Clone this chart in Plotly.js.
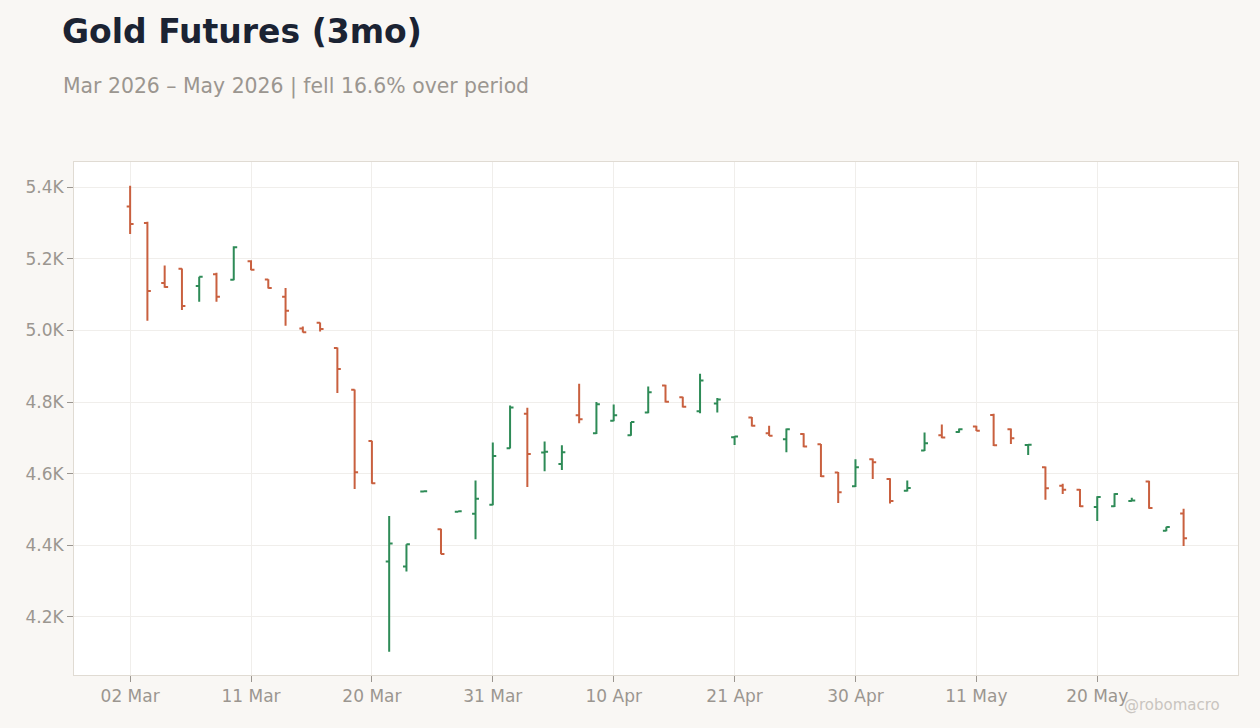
<!DOCTYPE html>
<html>
<head>
<meta charset="utf-8">
<script src="https://cdn.plot.ly/plotly-3.0.1.min.js"></script>
<style>html,body{margin:0;padding:0;background:#f9f7f4;}#chart{width:1260px;height:728px;}</style>
</head>
<body>
<div id="chart"></div>
<script>
const dates = [
 "2026-03-02","2026-03-03","2026-03-04","2026-03-05","2026-03-06","2026-03-09","2026-03-10","2026-03-11","2026-03-12","2026-03-13",
 "2026-03-16","2026-03-17","2026-03-18","2026-03-19","2026-03-20","2026-03-23","2026-03-24","2026-03-25","2026-03-26","2026-03-27",
 "2026-03-30","2026-03-31","2026-04-01","2026-04-02","2026-04-06","2026-04-07","2026-04-08","2026-04-09","2026-04-10","2026-04-13",
 "2026-04-14","2026-04-15","2026-04-16","2026-04-17","2026-04-20","2026-04-21","2026-04-22","2026-04-23","2026-04-24","2026-04-27",
 "2026-04-28","2026-04-29","2026-04-30","2026-05-01","2026-05-04","2026-05-05","2026-05-06","2026-05-07","2026-05-08","2026-05-11",
 "2026-05-12","2026-05-13","2026-05-14","2026-05-15","2026-05-18","2026-05-19","2026-05-20","2026-05-21","2026-05-22","2026-05-26",
 "2026-05-27","2026-05-28"];
const openP = [5346,5300,5132,5172,5124,5157,5141,5193,5142,5094,5005,5021,4951,4834,4691,4355,4341,4550,4445,4494,
 4488,4513,4671,4767,4659,4627,4763,4713,4748,4707,4771,4846,4813,4774,4796,4702,4757,4713,4696,4711,
 4682,4603,4565,4640,4585,4552,4665,4707,4716,4732,4764,4724,4680,4618,4566,4555,4507,4509,4524,4578,4441,4489];
const highP = [5404,5303,5181,5173,5150,5161,5235,5196,5143,5118,5011,5022,4952,4835,4692,4482,4403,4552,4446,4495,
 4581,4687,4790,4784,4690,4679,4851,4800,4793,4744,4843,4848,4815,4879,4811,4705,4758,4734,4726,4713,
 4683,4605,4640,4642,4587,4581,4715,4737,4726,4734,4767,4726,4682,4620,4572,4557,4537,4545,4533,4580,4452,4502];
const lowP = [5269,5027,5119,5057,5080,5080,5140,5168,5117,5013,4994,4997,4825,4557,4572,4103,4327,4548,4375,4493,
 4417,4512,4670,4563,4607,4610,4741,4711,4746,4706,4769,4799,4785,4769,4771,4680,4732,4705,4660,4674,
 4591,4518,4563,4585,4517,4550,4663,4699,4714,4719,4677,4683,4652,4527,4543,4507,4468,4507,4522,4502,4439,4398];
const closeP = [5297,5110,5121,5068,5150,5094,5232,5169,5118,5055,4995,5004,4892,4604,4573,4405,4403,4551,4376,4495,
 4530,4649,4785,4655,4661,4660,4752,4794,4763,4744,4827,4801,4787,4860,4807,4704,4734,4706,4724,4676,
 4593,4548,4618,4632,4524,4560,4685,4701,4724,4720,4679,4699,4681,4559,4555,4509,4535,4543,4525,4504,4451,4420];
const xTickVals = ["2026-03-02","2026-03-11","2026-03-20","2026-03-31","2026-04-10","2026-04-21","2026-04-30","2026-05-11","2026-05-20"];
const xTickText = ["02 Mar","11 Mar","20 Mar","31 Mar","10 Apr","21 Apr","30 Apr","11 May","20 May"];
const yTickVals = [4200,4400,4600,4800,5000,5200,5400];
const yTickText = ["4.2K","4.4K","4.6K","4.8K","5.0K","5.2K","5.4K"];

const trace = {
  type: 'ohlc', x: dates, open: openP, high: highP, low: lowP, close: closeP,
  tickwidth: 0.2,
  increasing: {line: {color: '#2e8b57', width: 2}},
  decreasing: {line: {color: '#c9603f', width: 2}},
  hoverinfo: 'skip', showlegend: false
};
const tickFont = {family: 'DejaVu Sans, sans-serif', size: 17, color: '#9b9690'};
const layout = {
  width: 1260, height: 728,
  paper_bgcolor: '#f9f7f4', plot_bgcolor: '#ffffff',
  margin: {l: 74, r: 22, t: 162, b: 53},
  title: {text: '<b>Gold Futures (3mo)</b>', xref: 'container', yref: 'container',
          x: 62/1260, xanchor: 'left', y: 1 - 31/728, yanchor: 'middle',
          font: {family: 'DejaVu Sans, sans-serif', size: 33, color: '#1b2333'}},
  xaxis: {type: 'category', range: [-3.25, 64.15], tickvals: xTickVals, ticktext: xTickText,
          showgrid: true, gridcolor: '#f0eeeb', ticks: 'outside', ticklen: 6, tickcolor: '#9b9690',
          showline: true, mirror: true, linecolor: '#e0dbd3', linewidth: 1,
          rangeslider: {visible: false}, tickfont: tickFont, zeroline: false, fixedrange: true},
  yaxis: {range: [4038, 5470], tickvals: yTickVals, ticktext: yTickText,
          showgrid: true, gridcolor: '#f0eeeb', ticks: 'outside', ticklen: 6, tickcolor: '#9b9690',
          showline: true, mirror: true, linecolor: '#e0dbd3', linewidth: 1,
          tickfont: tickFont, zeroline: false, fixedrange: true},
  annotations: [
    {text: 'Mar 2026 – May 2026 | fell 16.6% over period', xref: 'paper', yref: 'paper',
     x: (61-74)/1164, xanchor: 'left', y: (675-86)/513, yanchor: 'middle', showarrow: false,
     font: {family: 'DejaVu Sans, sans-serif', size: 20.4, color: '#9b9690'}},
    {text: '@robomacro', xref: 'paper', yref: 'paper',
     x: (1222-74)/1164, xanchor: 'right', y: (675-705)/513, yanchor: 'middle', showarrow: false,
     font: {family: 'DejaVu Sans, sans-serif', size: 15, color: '#c9c5c0'}}
  ]
};
Plotly.newPlot('chart', [trace], layout, {displayModeBar: false, staticPlot: true});
</script>
</body>
</html>
